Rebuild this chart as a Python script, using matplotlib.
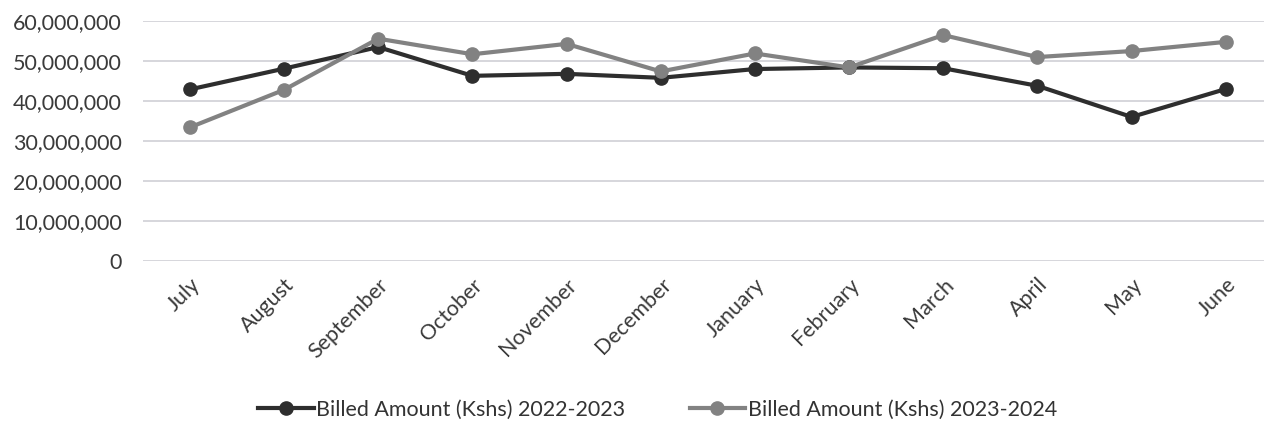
import numpy as np
import matplotlib.pyplot as plt
from matplotlib.ticker import FuncFormatter

plt.switch_backend("Agg")
plt.rcParams["font.family"] = ["Lato", "DejaVu Sans"]

# 月份与两个财年的开票金额 (Kshs)
months = ["July", "August", "September", "October", "November", "December",
          "January", "February", "March", "April", "May", "June"]
billed_2022_2023 = [42.9e6, 48.1e6, 53.5e6, 46.3e6, 46.8e6, 45.8e6,
                    48.0e6, 48.4e6, 48.2e6, 43.8e6, 36.0e6, 43.0e6]
billed_2023_2024 = [33.4e6, 42.8e6, 55.6e6, 51.7e6, 54.3e6, 47.4e6,
                    51.9e6, 48.4e6, 56.5e6, 51.0e6, 52.5e6, 54.8e6]
y_ticks = [0, 10e6, 20e6, 30e6, 40e6, 50e6, 60e6]

label_a = "Billed Amount (Kshs) 2022-2023"
label_b = "Billed Amount (Kshs) 2023-2024"

fig = plt.figure(figsize=(12.64, 4.22), dpi=100)
ax = fig.add_axes([0.113, 0.382, 0.894, 0.568])

x = np.arange(len(months))
ax.plot(x, billed_2022_2023, color="#2e2e2e", lw=3, marker="o", ms=9.5,
        label=label_a, zorder=3)
ax.plot(x, billed_2023_2024, color="#828282", lw=3, marker="o", ms=9.5,
        label=label_b, zorder=3)

ax.set_xlim(-0.5, len(months) - 0.5)
ax.set_ylim(0, 60e6)
ax.set_yticks(y_ticks)
ax.yaxis.set_major_formatter(FuncFormatter(lambda v, _: f"{v:,.0f}"))
ax.grid(axis="y", color="#cfcfd6", lw=1.2)
ax.set_axisbelow(True)

ax.set_xticks(x)
ax.set_xticklabels(months, rotation=45, ha="right", rotation_mode="anchor")
ax.tick_params(axis="both", length=0, labelsize=15.5, colors="#3a3a3a")
ax.tick_params(axis="y", pad=15)
ax.tick_params(axis="x", pad=10)
for s in ax.spines.values():
    s.set_visible(False)

fig.legend(loc="lower center", bbox_to_anchor=(0.52, -0.04), ncol=2,
           frameon=False, fontsize=15.5, handlelength=2.6, columnspacing=3.0,
           handletextpad=0.1, labelcolor="#333333")

fig.savefig("out.png", dpi=100, facecolor="white")
plt.close(fig)
